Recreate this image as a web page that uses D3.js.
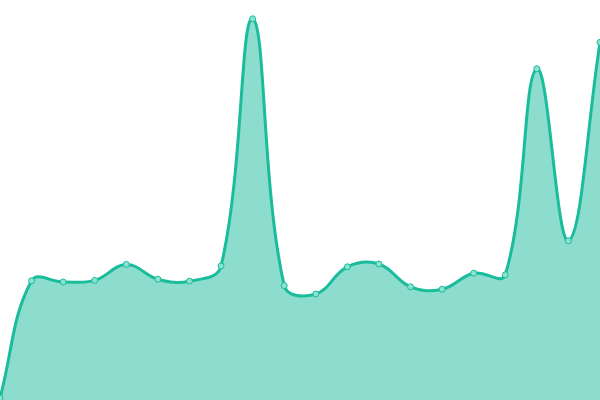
<!DOCTYPE html>
<html lang="en">
<head>
  <meta charset="UTF-8">
  <title>Area chart</title>
  <style>
    html, body { margin: 0; padding: 0; background: #fff; }
    svg { display: block; }
  </style>
</head>
<body>
  <script src="https://d3js.org/d3.v7.min.js"></script>
  <script>
    const labels = d3.range(20).map(i => 'P' + (i + 1));
    const values = [0.5, 29.8, 29.5, 29.9, 33.9, 30.2, 29.7, 33.5, 95.3, 28.6,
                    26.5, 33.3, 34.0, 28.3, 27.7, 31.7, 31.3, 82.8, 39.8, 89.4];

    const width = 600, height = 400;
    const lineColor = '#1abc9c';
    const fillColor = 'rgba(26,188,156,0.5)';

    // distance-weighted spline (tension 0.4), control points kept inside the canvas
    function splineCurve(tension) {
      return function (context) {
        let pts, line;
        const clampX = v => Math.max(0, Math.min(width, v));
        const clampY = v => Math.max(0, Math.min(height, v));
        return {
          areaStart() { line = 0; },
          areaEnd() { line = NaN; },
          lineStart() { pts = []; },
          point(x, y) { pts.push([+x, +y]); },
          lineEnd() {
            const n = pts.length;
            const cps = pts.map((p, i) => {
              const a = pts[i - 1] || p, b = pts[i + 1] || p;
              const d01 = Math.hypot(p[0] - a[0], p[1] - a[1]);
              const d12 = Math.hypot(b[0] - p[0], b[1] - p[1]);
              let s01 = d01 / (d01 + d12), s12 = d12 / (d01 + d12);
              if (isNaN(s01)) s01 = 0;
              if (isNaN(s12)) s12 = 0;
              const fa = tension * s01, fb = tension * s12;
              return {
                prev: [clampX(p[0] - fa * (b[0] - a[0])), clampY(p[1] - fa * (b[1] - a[1]))],
                next: [clampX(p[0] + fb * (b[0] - a[0])), clampY(p[1] + fb * (b[1] - a[1]))]
              };
            });
            if (n) {
              if (line) context.lineTo(pts[0][0], pts[0][1]);
              else context.moveTo(pts[0][0], pts[0][1]);
            }
            for (let i = 1; i < n; i++) {
              const c1 = cps[i - 1].next, c2 = cps[i].prev;
              context.bezierCurveTo(c1[0], c1[1], c2[0], c2[1], pts[i][0], pts[i][1]);
            }
            if (line || (line !== 0 && n === 1)) context.closePath();
            line = 1 - line;
          }
        };
      };
    }

    const svg = d3.select('body').append('svg')
      .attr('width', width)
      .attr('height', height);

    // scales, no margins: chart fills the whole canvas
    const x = d3.scalePoint().domain(labels).range([0, width]);
    const y = d3.scaleLinear().domain([0, 100]).range([height, 0]);

    const curve = splineCurve(0.4);

    // area
    svg.append('path')
      .datum(values)
      .attr('fill', fillColor)
      .attr('d', d3.area()
        .x((d, i) => x(labels[i]))
        .y0(y(0))
        .y1(d => y(d))
        .curve(curve));

    // line
    svg.append('path')
      .datum(values)
      .attr('fill', 'none')
      .attr('stroke', lineColor)
      .attr('stroke-width', 3)
      .attr('d', d3.line()
        .x((d, i) => x(labels[i]))
        .y(d => y(d))
        .curve(curve));

    // points
    svg.append('g').selectAll('circle').data(values).join('circle')
      .attr('cx', (d, i) => x(labels[i]))
      .attr('cy', d => y(d))
      .attr('r', 3)
      .attr('fill', 'rgba(140,226,208,1)')
      .attr('stroke', lineColor)
      .attr('stroke-width', 1);
  </script>
</body>
</html>
